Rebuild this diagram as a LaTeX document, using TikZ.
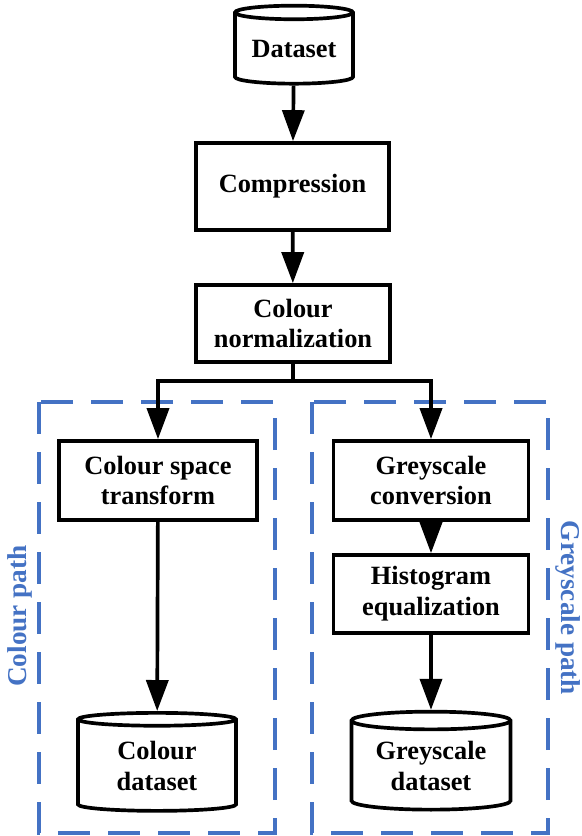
\documentclass[tikz,border=0pt]{standalone}
\usepackage{fontspec}
\setmainfont{Liberation Serif}
\usetikzlibrary{arrows.meta, shapes.geometric}
\definecolor{bleuchemin}{RGB}{68,114,196}

\tikzset{
  boite/.style={draw, line width=2.1pt, rectangle, inner sep=0pt, align=center,
    font=\bfseries\fontsize{15}{17.6}\selectfont},
  base/.style={draw, line width=2.1pt, cylinder, shape border rotate=90, aspect=0.16,
    inner sep=0pt, align=center, font=\bfseries\fontsize{15}{17.6}\selectfont},
  fleche/.style={-{Triangle[width=0.44cm,length=0.62cm]}, line width=2.1pt},
  chemin/.style={draw=bleuchemin, line width=1.9pt, dash pattern=on 0.64cm off 0.36cm},
  titre/.style={text=bleuchemin, font=\bfseries\fontsize{15.5}{18}\selectfont}
}

\begin{document}
\begin{tikzpicture}
    % Cadre de la page
    \useasboundingbox (0,0) rectangle (11.64,-16.72);

    % Cadres en pointillés des deux chemins (en bleu)
    \draw[chemin] (0.78,-8.04) rectangle (5.5,-16.66);
    \draw[chemin] (6.24,-8.04) rectangle (10.96,-16.66);

    % Titres des chemins (verticaux, en bleu)
    \node[titre, rotate=90] (tcouleur) at (0.4,-12.32) {Colour path};
    \node[titre, rotate=-90] (tgris) at (11.36,-12.16) {Greyscale path};

    % Tronc commun
    \node[base, minimum width=2.36cm, minimum height=1.56cm] (data) at (5.88,-0.98) {Dataset};
    \node[boite, minimum width=3.86cm, minimum height=1.74cm] (compress) at (5.85,-3.73) {Compression};
    \node[boite, minimum width=3.88cm, minimum height=1.54cm] (norm) at (5.86,-6.47) {Colour\\normalization};

    % Chemin couleur
    \node[boite, minimum width=3.96cm, minimum height=1.58cm] (cst) at (3.16,-9.61) {Colour space\\transform};
    \node[base, minimum width=3.16cm, minimum height=1.96cm] (coldata) at (3.14,-15.32) {Colour\\dataset};

    % Chemin niveaux de gris
    \node[boite, minimum width=3.9cm, minimum height=1.58cm] (grey) at (8.62,-9.61) {Greyscale\\conversion};
    \node[boite, minimum width=3.9cm, minimum height=1.56cm] (histo) at (8.62,-11.88) {Histogram\\equalization};
    \node[base, minimum width=3.18cm, minimum height=1.96cm] (greydata) at (8.62,-15.32) {Greyscale\\dataset};

    % Flèches du tronc commun
    \draw[fleche] (data) -- (compress);
    \draw[fleche] (compress) -- (norm);

    % Embranchement vers les deux chemins
    \coordinate (embr) at (5.86,-7.62);
    \draw[line width=2.1pt] (norm.south) -- (embr);
    \draw[fleche] (embr) -| (cst.north);
    \draw[fleche] (embr) -| (grey.north);

    % Flèches dans chaque chemin
    \draw[fleche] (cst) -- (coldata);
    \draw[fleche] (grey) -- (histo);
    \draw[fleche] (histo) -- (greydata);

\end{tikzpicture}
\end{document}
